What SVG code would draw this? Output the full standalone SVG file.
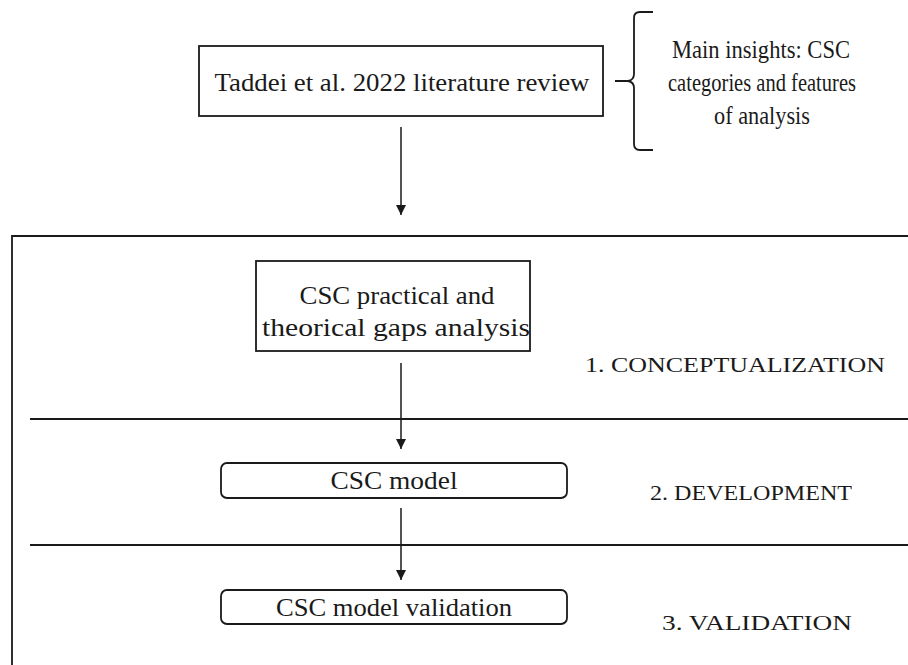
<svg xmlns="http://www.w3.org/2000/svg" width="908" height="665" viewBox="0 0 908 665">
<style>
text{font-family:"Liberation Serif","Times New Roman",serif;fill:#1a1a1a;text-anchor:middle}
.t{font-size:25px}
.s{font-size:22px}
.box{fill:#fff;stroke:#1a1a1a;stroke-width:1.8}
.ln{fill:none;stroke:#1a1a1a;stroke-width:1.8}
.c{fill:none;stroke:#1a1a1a;stroke-width:1.5}
</style>
<defs>
<marker id="ah" viewBox="0 0 10 10" refX="10" refY="5" markerWidth="10" markerHeight="10" markerUnits="userSpaceOnUse" orient="auto">
<path d="M0,0 L10,5 L0,10 z" fill="#1a1a1a"/>
</marker>
</defs>
<rect width="908" height="665" fill="#fff"/>
<g id="frame">
<path class="ln" d="M12,665 V236 H910"/>
<line class="ln" x1="30" y1="419" x2="908" y2="419"/>
<line class="ln" x1="30" y1="545" x2="908" y2="545"/>
</g>
<g id="lit-review">
<rect class="box" x="199" y="46" width="404" height="70"/>
<text class="t" x="402" y="91" textLength="375" lengthAdjust="spacingAndGlyphs">Taddei et al. 2022 literature review</text>
</g>
<g id="insights">
<path class="ln" d="M653,12 H640 Q634,12 634,18 V74 Q634,80 628,81 H615 M628,81 Q634,82 634,88 V144 Q634,150 640,150 H653"/>
<text class="t" x="761" y="58" textLength="178" lengthAdjust="spacingAndGlyphs">Main insights: CSC</text>
<text class="t" x="762" y="91" textLength="188" lengthAdjust="spacingAndGlyphs">categories and features</text>
<text class="t" x="762" y="124" textLength="96" lengthAdjust="spacingAndGlyphs">of analysis</text>
</g>
<g id="gaps">
<rect class="box" x="256" y="261" width="274" height="90"/>
<text class="t" x="397" y="304" textLength="195" lengthAdjust="spacingAndGlyphs">CSC practical and</text>
<text class="t" x="396" y="336" textLength="268" lengthAdjust="spacingAndGlyphs">theorical gaps analysis</text>
</g>
<g id="model">
<rect class="box" x="221" y="463" width="346" height="35" rx="6"/>
<text class="t" x="394" y="489" textLength="127" lengthAdjust="spacingAndGlyphs">CSC model</text>
</g>
<g id="validation">
<rect class="box" x="221" y="590" width="346" height="34" rx="6"/>
<text class="t" x="394" y="616" textLength="236" lengthAdjust="spacingAndGlyphs">CSC model validation</text>
</g>
<g id="phase-labels">
<text class="s" x="735" y="372" textLength="300" lengthAdjust="spacingAndGlyphs">1. CONCEPTUALIZATION</text>
<text class="s" x="751" y="500" textLength="202" lengthAdjust="spacingAndGlyphs">2. DEVELOPMENT</text>
<text class="s" x="757" y="630" textLength="190" lengthAdjust="spacingAndGlyphs">3. VALIDATION</text>
</g>
<g id="connectors">
<line class="c" x1="401" y1="127" x2="401" y2="215" marker-end="url(#ah)"/>
<line class="c" x1="401" y1="363" x2="401" y2="449" marker-end="url(#ah)"/>
<line class="c" x1="401" y1="508" x2="401" y2="580" marker-end="url(#ah)"/>
</g>
</svg>
